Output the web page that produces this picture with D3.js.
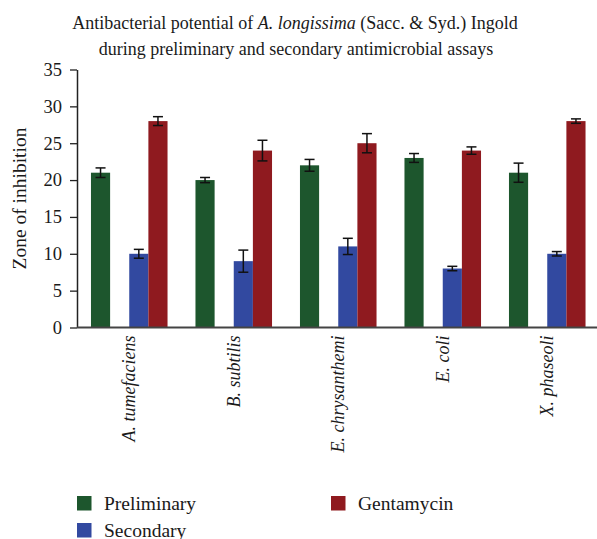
<!DOCTYPE html>
<html>
<head>
<meta charset="utf-8">
<script src="https://cdn.jsdelivr.net/npm/d3@7"></script>
<style>
  html, body { margin: 0; padding: 0; background: #fff; }
  svg { display: block; }
  svg text { font-family: 'Liberation Serif', 'DejaVu Serif', serif !important; fill: #1a1a1a; }
</style>
</head>
<body>
<svg id="chart" width="597" height="539" font-family="'Liberation Serif', serif"></svg>
<script>
const categories = ["A. tumefaciens", "B. subtilis", "E. chrysanthemi", "E. coli", "X. phaseoli"];
const seriesNames = ["Preliminary", "Secondary", "Gentamycin"];
const preliminary = [21, 20, 22, 23, 21];
const preliminaryErr = [0.65, 0.35, 0.8, 0.6, 1.3];
const secondary = [10, 9, 11, 8, 10];
const secondaryErr = [0.6, 1.5, 1.1, 0.3, 0.3];
const gentamycin = [28, 24, 25, 24, 28];
const gentamycinErr = [0.6, 1.4, 1.3, 0.5, 0.3];
const yTicks = [0, 5, 10, 15, 20, 25, 30, 35];
const colors = ["#1d562d", "#3249a0", "#8f1a1f"];

const SERIF = "'Liberation Serif', 'DejaVu Serif', serif";
const svg = d3.select("#chart");
const margin = { left: 77, top: 69.5, bottom: 327.5, right: 599.5 };

const x = d3.scaleBand().domain(categories).range([margin.left, margin.right]).padding(0);
const slot = d3.scaleBand().domain([0, 1, 2, 3]).range([0, x.bandwidth()]).paddingInner(0).paddingOuter(0.73);
const seriesSlot = [0, 2, 3];
const y = d3.scaleLinear().domain([0, 35]).range([margin.bottom, margin.top]);

const series = [
  { name: seriesNames[0], values: preliminary, err: preliminaryErr, color: colors[0], slot: seriesSlot[0] },
  { name: seriesNames[1], values: secondary, err: secondaryErr, color: colors[1], slot: seriesSlot[1] },
  { name: seriesNames[2], values: gentamycin, err: gentamycinErr, color: colors[2], slot: seriesSlot[2] }
];

// Title
const title = svg.append("text").attr("text-anchor", "middle").style("font-size", "18px");
title.append("tspan").attr("x", 295).attr("y", 29)
  .text("Antibacterial potential of ")
  .append("tspan").style("font-style", "italic").text("A. longissima");
title.append("tspan").text(" (Sacc. & Syd.) Ingold");
title.append("tspan").attr("x", 296).attr("y", 55).text("during preliminary and secondary antimicrobial assays");

// Bars
series.forEach(s => {
  const g = svg.append("g");
  g.selectAll("rect").data(categories).join("rect")
    .attr("x", (c) => x(c) + slot(s.slot))
    .attr("width", slot.bandwidth())
    .attr("y", (c, i) => y(s.values[i]))
    .attr("height", (c, i) => y(0) - y(s.values[i]))
    .attr("fill", s.color);
});

// Error bars
series.forEach(s => {
  const g = svg.append("g").attr("stroke", "#111").attr("stroke-width", 1.5).attr("fill", "none");
  categories.forEach((c, i) => {
    const cx = x(c) + slot(s.slot) + slot.bandwidth() / 2;
    const hi = y(s.values[i] + s.err[i]);
    const lo = y(s.values[i] - s.err[i]);
    g.append("line").attr("x1", cx).attr("x2", cx).attr("y1", hi).attr("y2", lo);
    g.append("line").attr("x1", cx - 5).attr("x2", cx + 5).attr("y1", hi).attr("y2", hi);
    g.append("line").attr("x1", cx - 5).attr("x2", cx + 5).attr("y1", lo).attr("y2", lo);
  });
});

// Y axis
const yAxis = svg.append("g").attr("transform", `translate(${margin.left},0)`)
  .call(d3.axisLeft(y).tickValues(yTicks).tickSize(7).tickSizeOuter(0).tickPadding(8));
yAxis.attr("font-family", SERIF).attr("font-size", 18);
yAxis.select(".domain").attr("stroke", "#222").attr("stroke-width", 1.5);
yAxis.selectAll(".tick line").attr("stroke", "#222").attr("stroke-width", 1.3);
yAxis.selectAll(".tick text").style("font-size", "18.5px").style("font-family", SERIF).attr("fill", "#1a1a1a");

// X axis
const xAxis = svg.append("g").attr("transform", `translate(0,${y(0)})`)
  .call(d3.axisBottom(x).tickSize(0).tickSizeOuter(0).tickPadding(0));
xAxis.attr("font-family", SERIF).attr("font-size", 18);
xAxis.select(".domain").attr("stroke", "#444").attr("stroke-width", 1.8).attr("d", `M${margin.left},0H597`);
xAxis.selectAll(".tick text")
  .style("font-size", "18px").style("font-style", "italic").style("font-family", SERIF)
  .attr("fill", "#1a1a1a")
  .attr("text-anchor", "end")
  .attr("transform", "rotate(-90)")
  .attr("x", -8).attr("y", 0).attr("dy", "0.33em");

// Y label
svg.append("text")
  .attr("transform", `translate(26,198.5) rotate(-90)`)
  .attr("text-anchor", "middle")
  .style("font-size", "19.5px").style("font-family", SERIF)
  .text("Zone of inhibition");

// Legend
const legendItems = [
  { name: seriesNames[0], color: colors[0], lx: 77, ly: 496 },
  { name: seriesNames[1], color: colors[1], lx: 77, ly: 523 },
  { name: seriesNames[2], color: colors[2], lx: 331, ly: 496 }
];
const lg = svg.append("g");
legendItems.forEach(d => {
  lg.append("rect").attr("x", d.lx).attr("y", d.ly).attr("width", 14.5).attr("height", 14.5).attr("fill", d.color);
  lg.append("text").attr("x", d.lx + 27).attr("y", d.ly + 13.5).style("font-size", "19.5px").style("font-family", SERIF).text(d.name);
});
</script>
</body>
</html>
